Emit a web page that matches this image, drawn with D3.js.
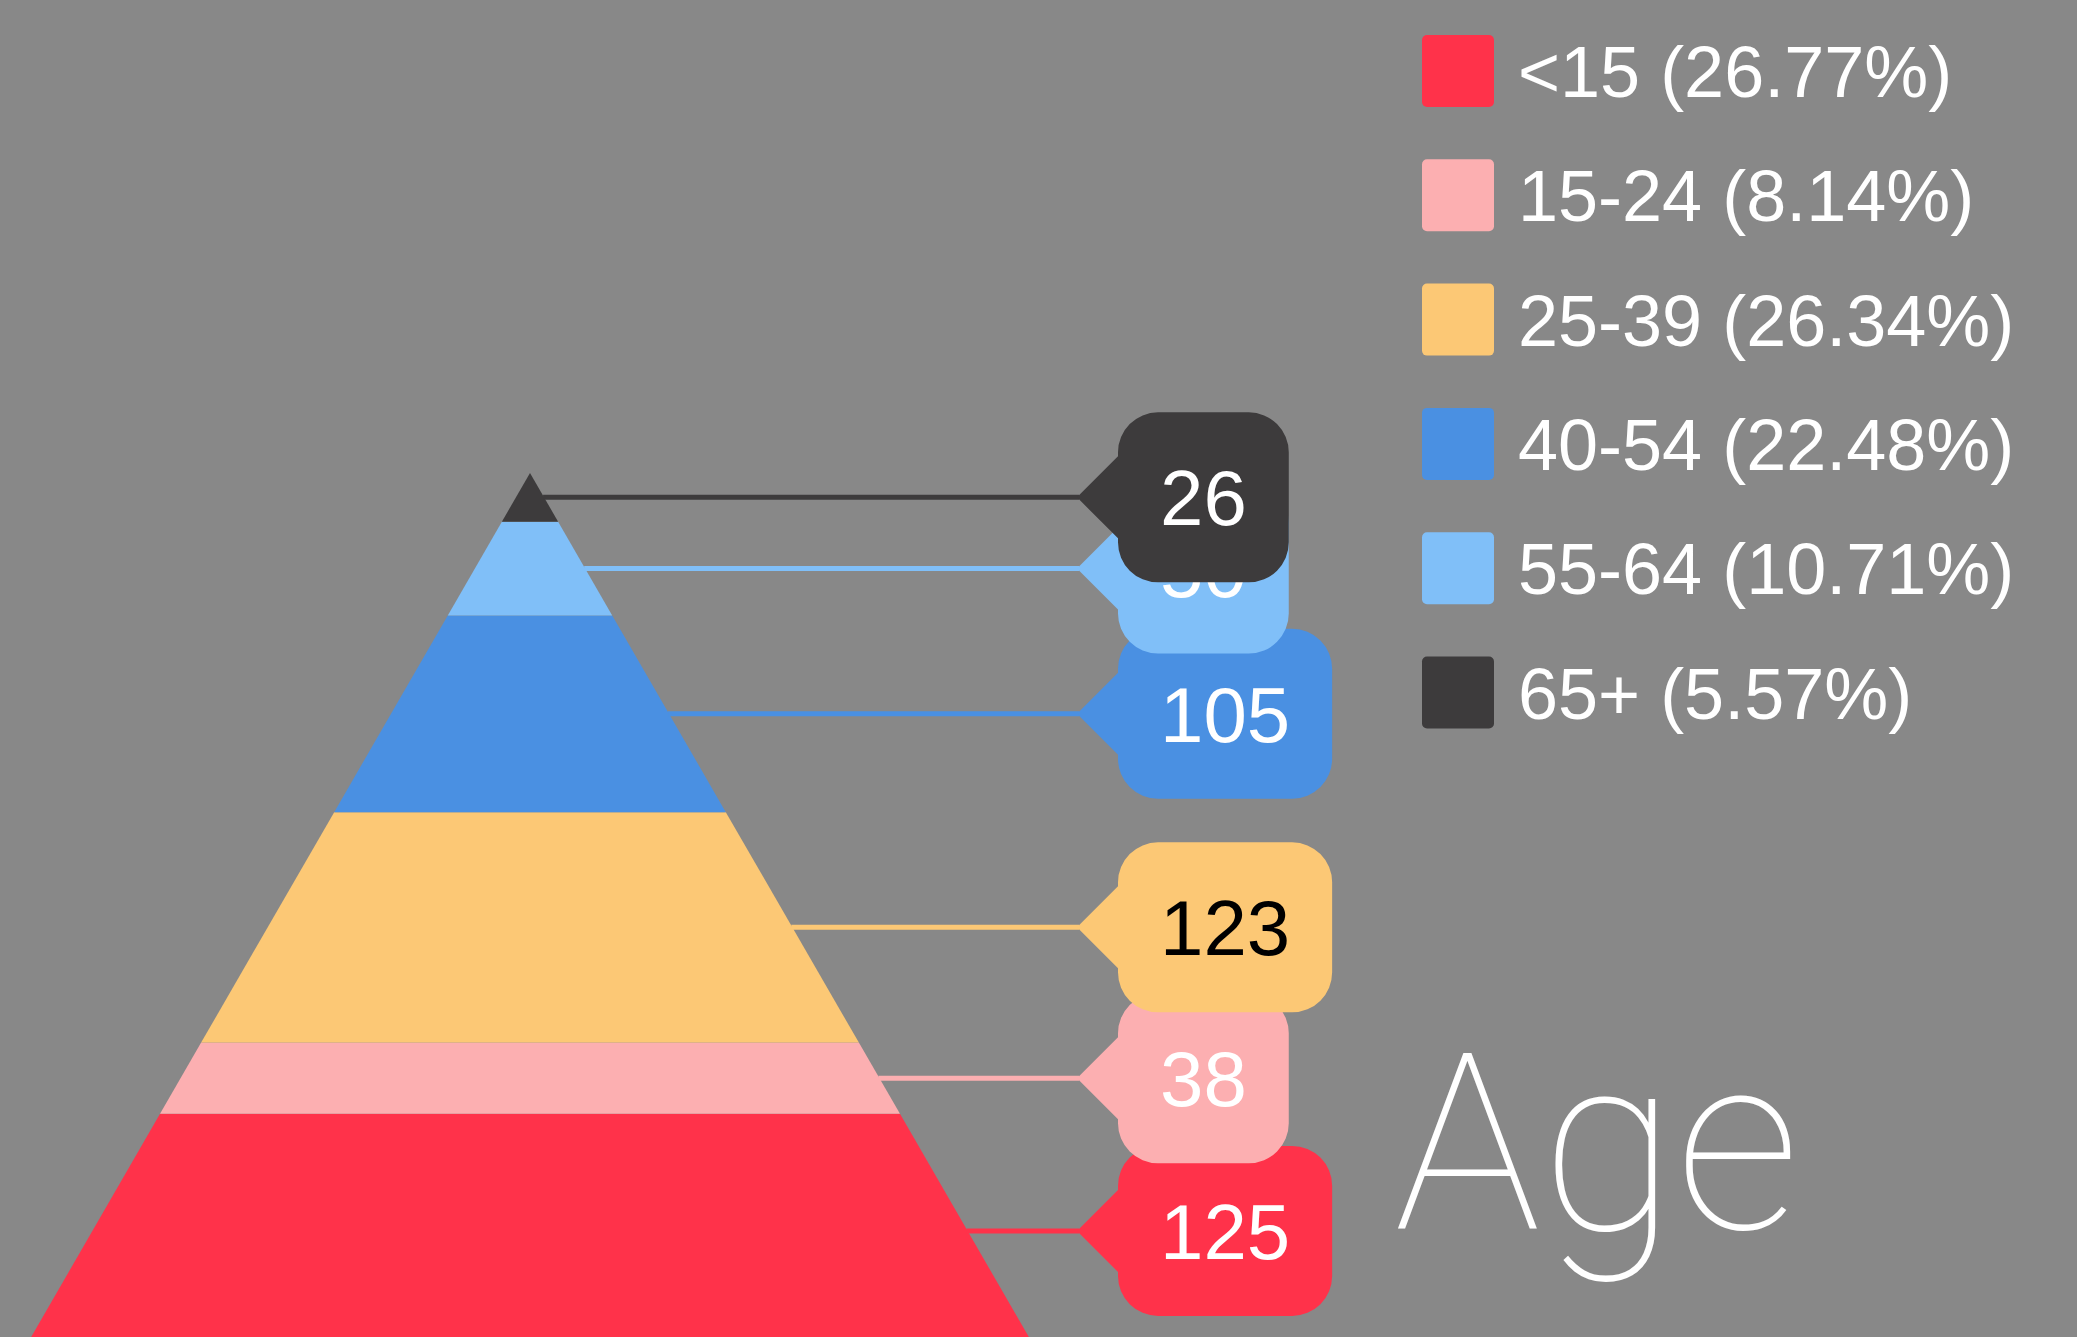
<!DOCTYPE html>
<html>
<head>
<meta charset="utf-8">
<script src="https://cdn.jsdelivr.net/npm/d3@7"></script>
<style>
  body { margin: 0; background: #888888; }
  svg { display: block; }
</style>
</head>
<body>
<div id="chart"></div>
<script>
// age groups, bottom of the pyramid first
var categories = ['<15', '15-24', '25-39', '40-54', '55-64', '65+'];
var values = [125, 38, 123, 105, 50, 26];
var palette = ['#ff324a', '#fcafb1', '#fcc875', '#4a90e2', '#80bff8', '#3d3b3c'];
var label_colors = ['#fff', '#fff', '#000', '#fff', '#fff', '#fff'];
var title = 'Age';

var chart_width = 2077;
var chart_height = 1337;
var apex_x = 530;
var slope = Math.tan(Math.PI / 6); // half width per px of height
var tip_x = 1077;   // where the callout arrows point
var arrow = 41;
var box_h = 170;
var box_r = 40;
var box_pad = 42;
var font = "'Liberation Sans', Arial, Helvetica, sans-serif";

var total = d3.sum(values);

var svg = d3.select('#chart')
  .append('svg')
  .attr('width', chart_width)
  .attr('height', chart_height);

svg.append('rect')
  .attr('width', chart_width)
  .attr('height', chart_height)
  .attr('fill', '#888888');

// colour by category
var color = d3.scaleOrdinal()
  .domain(categories)
  .range(palette);

// value scale: running total counted from the top of the pyramid
var y_scale = d3.scaleLinear()
  .domain([0, total])
  .range([473, 1348]);

// stack from the top (65+) down to <15
var rows = categories.map(function(c, i) {
  return { cat: c, value: values[i], index: i };
});
var acc = 0;
rows.slice().reverse().forEach(function(d) {
  d.y0 = y_scale(acc);
  acc += d.value;
  d.y1 = y_scale(acc);
  d.ym = (d.y0 + d.y1) / 2;
});

function half(y) {
  return (y - y_scale(0)) * slope;
}

var line = d3.line();

// pyramid bands
svg.append('g').selectAll('path')
  .data(rows)
  .enter()
  .append('path')
  .attr('d', function(d) {
    return line([
      [apex_x - half(d.y0), d.y0],
      [apex_x + half(d.y0), d.y0],
      [apex_x + half(d.y1), d.y1],
      [apex_x - half(d.y1), d.y1]
    ]) + 'Z';
  })
  .attr('fill', function(d) { return color(d.cat); });

// leader lines
svg.append('g').selectAll('line')
  .data(rows)
  .enter()
  .append('line')
  .attr('x1', function(d) { return apex_x + half(d.ym) - 1; })
  .attr('x2', tip_x + 2)
  .attr('y1', function(d) { return d.ym; })
  .attr('y2', function(d) { return d.ym; })
  .attr('stroke', function(d) { return color(d.cat); })
  .attr('stroke-width', 5);

// callouts, drawn in data order so the upper ones sit on top
function callout(w) {
  var h2 = box_h / 2, r = box_r, a = arrow;
  return 'M0,0' +
    'L' + a + ',' + (-a) +
    'L' + a + ',' + (-h2 + r) +
    'A' + r + ',' + r + ' 0 0 1 ' + (a + r) + ',' + (-h2) +
    'L' + (a + w - r) + ',' + (-h2) +
    'A' + r + ',' + r + ' 0 0 1 ' + (a + w) + ',' + (-h2 + r) +
    'L' + (a + w) + ',' + (h2 - r) +
    'A' + r + ',' + r + ' 0 0 1 ' + (a + w - r) + ',' + h2 +
    'L' + (a + r) + ',' + h2 +
    'A' + r + ',' + r + ' 0 0 1 ' + a + ',' + (h2 - r) +
    'L' + a + ',' + a + 'Z';
}

var tags = svg.append('g').selectAll('g')
  .data(rows)
  .enter()
  .append('g')
  .attr('transform', function(d) {
    return 'translate(' + tip_x + ',' + d.ym + ')';
  });

tags.each(function(d) {
  var g = d3.select(this);
  var shape = g.append('path').attr('fill', color(d.cat));
  var t = g.append('text')
    .text(d.value)
    .attr('font-family', font)
    .attr('font-size', 78)
    .attr('fill', label_colors[d.index])
    .attr('text-anchor', 'middle')
    .attr('y', 28);
  var w = t.node().getComputedTextLength() + box_pad * 2;
  shape.attr('d', callout(w));
  t.attr('x', arrow + w / 2);
});

// legend
var legend = svg.append('g').selectAll('g')
  .data(rows)
  .enter()
  .append('g')
  .attr('transform', function(d, i) {
    return 'translate(1422,' + (35 + i * 124.3) + ')';
  });

legend.append('rect')
  .attr('width', 72)
  .attr('height', 72)
  .attr('rx', 5)
  .attr('fill', function(d) { return color(d.cat); });

legend.append('text')
  .text(function(d) {
    return d.cat + ' (' + (d.value / total * 100).toFixed(2) + '%)';
  })
  .attr('x', 96)
  .attr('y', 62)
  .attr('font-family', font)
  .attr('font-size', 72)
  .attr('fill', '#fff');

// title
svg.append('text')
  .text(title)
  .attr('x', 1394)
  .attr('y', 1229)
  .attr('font-family', "Roboto, Lato, Inter, 'Open Sans', sans-serif")
  .attr('font-weight', 100)
  .attr('font-size', 246)
  .attr('fill', '#fff');
</script>
</body>
</html>
